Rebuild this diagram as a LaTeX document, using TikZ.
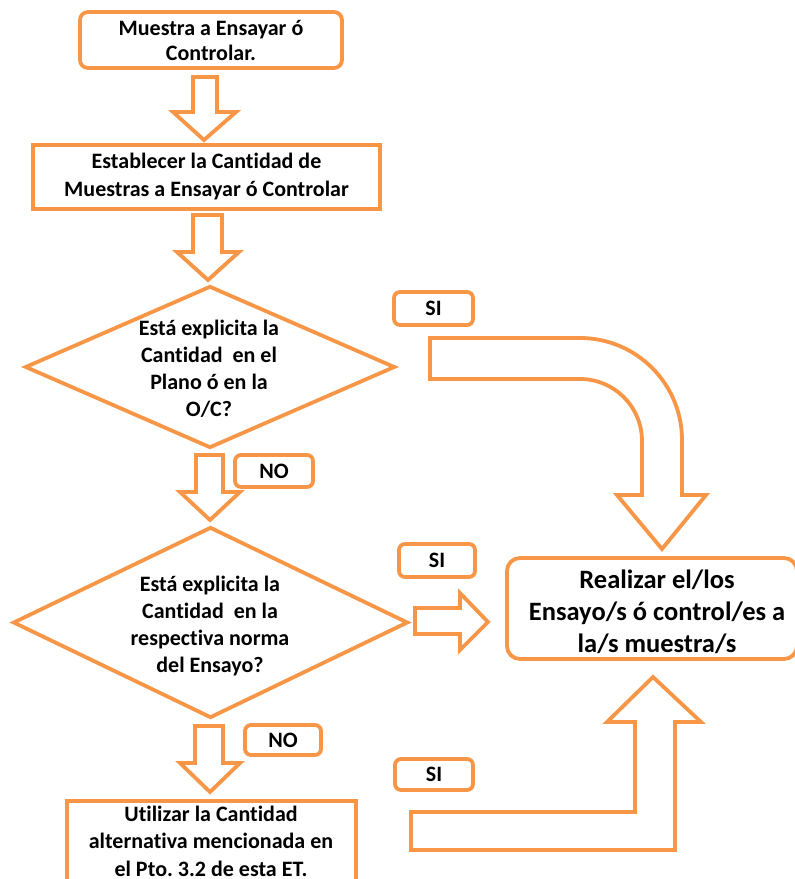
\documentclass[tikz,border=0pt]{standalone}
\usepackage{fontspec}
\setmainfont{Carlito}[Ligatures=NoCommon]
\frenchspacing
\usetikzlibrary{shapes.geometric}
\definecolor{org}{HTML}{F79646}
\tikzset{
  shp/.style={draw=org, line width=3.8pt},
  rbox/.style={shp, rounded corners=8pt, inner sep=0pt},
  sbox/.style={shp, inner sep=0pt},
  blockarrow/.style={shp, line join=miter},
  txt/.style={align=center, inner sep=0pt, font=\bfseries\fontsize{22}{26.5}\selectfont},
  lbl/.style={rbox, rounded corners=6pt, minimum height=32pt, font=\bfseries\fontsize{22}{25}\selectfont},
}
\begin{document}
\begin{tikzpicture}[x=1pt,y=-1pt]
\useasboundingbox (0,0) rectangle (795,879);
\clip (0,0) rectangle (795,879);
% top box
\node[rbox, minimum width=262pt, minimum height=56pt] (top) at (211,40) {};
\node[txt, font=\bfseries\fontsize{22}{25}\selectfont] at (top) {Muestra a Ensayar ó\\Controlar.};
% box 2
\node[sbox, minimum width=347pt, minimum height=64pt] (est) at (206.5,177) {};
\node[txt, font=\bfseries\fontsize{22}{28}\selectfont] at (est) {Establecer la Cantidad de\\Muestras a Ensayar ó Controlar};
% diamond 1
\node[shp, diamond, minimum width=370pt, minimum height=162pt, inner sep=0pt] (d1) at (210,367) {};
\node[txt, font=\bfseries\fontsize{22}{27}\selectfont] at (209,369) {Está explicita la\\Cantidad~ en el\\Plano ó en la\\O/C?};
% diamond 2
\node[shp, diamond, minimum width=395pt, minimum height=191pt, inner sep=0pt] (d2) at (210.5,622.5) {};
\node[txt, font=\bfseries\fontsize{22}{27}\selectfont] at (210,626) {Está explicita la\\Cantidad~ en la\\respectiva norma\\del Ensayo?};
% box 3
\node[sbox, minimum width=289pt, minimum height=110pt] (alt) at (211.5,856) {};
\node[txt, font=\bfseries\fontsize{22}{27.5}\selectfont] at (211,841) {Utilizar la Cantidad\\alternativa mencionada en\\el Pto. 3.2 de esta ET.};
% right box
\node[rbox, rounded corners=13pt, minimum width=290pt, minimum height=101pt] (res) at (652,608.5) {};
\node[txt, font=\bfseries\fontsize{26.5}{32}\selectfont] at (657,612) {Realizar el/los\\Ensayo/s ó control/es a\\la/s muestra/s};
% labels
\node[lbl, minimum width=79pt, minimum height=33pt] (si1) at (433.5,308.5) {SI};
\node[lbl, minimum width=78pt] (no1) at (274,471) {NO};
\node[lbl, minimum width=76pt, minimum height=33pt] (si2) at (437,560.5) {SI};
\node[lbl, minimum width=76pt, minimum height=30pt] (no2) at (283,740) {NO};
\node[lbl, minimum width=78pt, minimum height=31pt] (si3) at (434,774.5) {SI};
% down block arrows
\draw[blockarrow] (193,77) -- (217,77) -- (217,112) -- (236,112) -- (204,140) -- (173,112) -- (193,112) -- cycle;
\draw[blockarrow] (193,215) -- (222,215) -- (222,252) -- (239,252) -- (208,280) -- (177,252) -- (193,252) -- cycle;
\draw[blockarrow] (196,455) -- (223,455) -- (223,492) -- (240,492) -- (210,520) -- (180,492) -- (196,492) -- cycle;
\draw[blockarrow] (195,726) -- (223,726) -- (223,763) -- (240,763) -- (210,792) -- (180,763) -- (195,763) -- cycle;
% curved arrow
\draw[blockarrow] (430,338) -- (580,338) .. controls (636.3,338) and (682,383.7) .. (682,440) -- (682,495) -- (706,495) -- (662,549) -- (617,495) -- (642,495) -- (642,441) .. controls (642,406.8) and (614.2,379) .. (580,379) -- (430,379) -- cycle;
% right arrow
\draw[blockarrow] (415,608) -- (460,608) -- (460,593) -- (488,622) -- (460,650) -- (460,634) -- (415,634) -- cycle;
% L arrow up
\draw[blockarrow] (411,812) -- (635,812) -- (635,722) -- (607,722) -- (653,677) -- (701,722) -- (675,722) -- (675,850) -- (411,850) -- cycle;
\end{tikzpicture}
\end{document}
